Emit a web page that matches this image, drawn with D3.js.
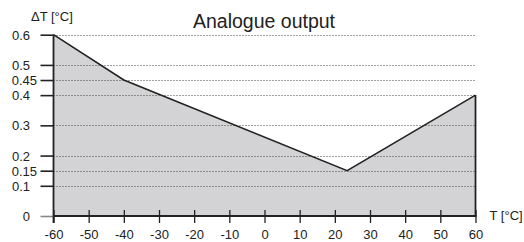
<!DOCTYPE html>
<html>
<head>
<meta charset="utf-8">
<script src="https://cdn.jsdelivr.net/npm/d3@7"></script>
<style>
  body { margin: 0; background: #fff; }
  text { font-family: "Liberation Sans", Arial, sans-serif; fill: #222; }
</style>
</head>
<body>
<svg id="chart" width="524" height="242"></svg>
<script>
// curve of the analogue output: temperature vs. delta T
var temps = [-60, -40, 23.5, 60];
var deltas = [0.6, 0.45, 0.15, 0.4];
var xTicks = [-60, -50, -40, -30, -20, -10, 0, 10, 20, 30, 40, 50, 60];
var yTicks = [0, 0.1, 0.15, 0.2, 0.3, 0.4, 0.45, 0.5, 0.6];
var yGrid = [0.1, 0.15, 0.2, 0.3, 0.4, 0.45, 0.5, 0.6];

var margin = { left: 53.5, right: 48.5, top: 34.7, bottom: 26 };
var width = 524, height = 242;
var ink = "#222";

var svg = d3.select("#chart");

var x = d3.scaleLinear().domain([-60, 60]).range([margin.left, width - margin.right]);
var y = d3.scaleLinear().domain([0, 0.6]).range([height - margin.bottom, margin.top]);

var points = temps.map(function(t, i) { return [t, deltas[i]]; });

// filled area under the curve
var area = d3.area()
    .x(function(d) { return x(d[0]); })
    .y0(y(0))
    .y1(function(d) { return y(d[1]); });

svg.append("path")
    .datum(points)
    .attr("d", area)
    .attr("fill", "#d3d3d5");

// dotted gridlines
svg.append("g")
    .selectAll("line")
    .data(yGrid)
    .enter().append("line")
    .attr("x1", x(-60))
    .attr("x2", x(60))
    .attr("y1", function(d) { return Math.round(y(d)) + 0.5; })
    .attr("y2", function(d) { return Math.round(y(d)) + 0.5; })
    .attr("stroke", "#444")
    .attr("stroke-width", 1)
    .attr("stroke-dasharray", "1,2");

// curve
var line = d3.line()
    .x(function(d) { return x(d[0]); })
    .y(function(d) { return y(d[1]); });

svg.append("path")
    .datum(points)
    .attr("d", line)
    .attr("fill", "none")
    .attr("stroke", ink)
    .attr("stroke-width", 1.6);

// right edge of the area
svg.append("line")
    .attr("x1", x(60)).attr("x2", x(60))
    .attr("y1", y(0)).attr("y2", y(deltas[deltas.length - 1]))
    .attr("stroke", ink)
    .attr("stroke-width", 1.8);

// y axis
var yAxis = svg.append("g")
    .attr("transform", "translate(" + x(-60) + ",0)")
    .call(d3.axisLeft(y).tickValues(yTicks).tickSize(13).tickFormat(function(d) { return String(d); }));
yAxis.select(".domain").remove();
yAxis.selectAll(".tick line")
    .attr("stroke", function(d) { return d === 0 ? "#888" : ink; })
    .attr("stroke-width", 1.6);
yAxis.selectAll(".tick text")
    .attr("x", function(d) { return String(d).length > 3 ? -16.5 : -23.5; })
    .attr("dy", "0.35em")
    .style("font-size", "13px")
    .attr("fill", ink)
    .attr("font-family", null);

svg.append("line")
    .attr("x1", x(-60)).attr("x2", x(-60))
    .attr("y1", y(0) + 7).attr("y2", y(0.6))
    .attr("stroke", ink)
    .attr("stroke-width", 1.8);

// x axis
var xAxis = svg.append("g")
    .attr("transform", "translate(0," + y(0) + ")")
    .call(d3.axisBottom(x).tickValues(xTicks).tickSize(7).tickFormat(function(d) { return String(d); }));
xAxis.select(".domain").remove();
xAxis.selectAll(".tick line")
    .attr("y1", -6)
    .attr("y2", 7)
    .attr("stroke", ink)
    .attr("stroke-width", 1.3);
xAxis.selectAll(".tick text")
    .attr("y", 14)
    .attr("dy", "0.71em")
    .style("font-size", "13px")
    .attr("fill", ink)
    .attr("font-family", null);

svg.append("line")
    .attr("x1", x(-60)).attr("x2", x(60) + 1)
    .attr("y1", y(0)).attr("y2", y(0))
    .attr("stroke", ink)
    .attr("stroke-width", 1.8);

// labels
svg.append("text")
    .attr("x", 264)
    .attr("y", 27.5)
    .attr("text-anchor", "middle")
    .style("font-size", "19.5px")
    .text("Analogue output");

svg.append("text")
    .attr("x", 31)
    .attr("y", 21)
    .style("font-size", "13px")
    .text("ΔT [°C]");

svg.append("text")
    .attr("x", 489.5)
    .attr("y", 220)
    .style("font-size", "13px")
    .text("T [°C]");
</script>
</body>
</html>
